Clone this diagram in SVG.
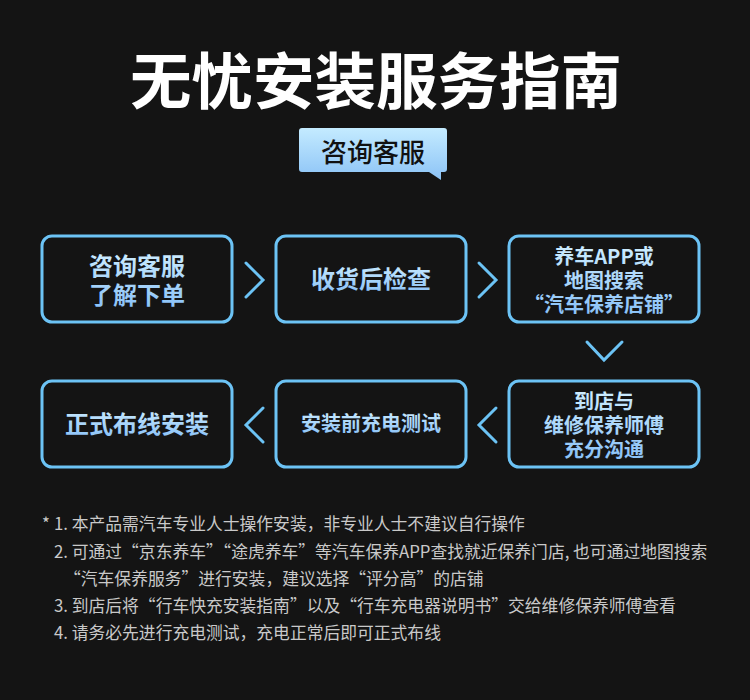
<svg xmlns="http://www.w3.org/2000/svg" width="750" height="700" viewBox="0 0 750 700">
<defs>
<linearGradient id="gText" x1="0" y1="0" x2="0" y2="1">
<stop offset="0" stop-color="#d2f0ff"/>
<stop offset="1" stop-color="#86bff7"/>
</linearGradient>
<linearGradient id="gBadge" x1="0" y1="0" x2="0" y2="1">
<stop offset="0" stop-color="#c4ebff"/>
<stop offset="1" stop-color="#8cc3f6"/>
</linearGradient>
<style>
.box{fill:#141414;stroke:#6cc3f5;stroke-width:3}
.chev{fill:none;stroke:#6cc3f5;stroke-width:3;stroke-linecap:round;stroke-linejoin:miter}
.nt{font-family:"Noto Sans CJK SC","Noto Sans",sans-serif;font-weight:700;fill:url(#gText);text-anchor:middle}
.note{font-family:"Noto Sans CJK SC","Noto Sans",sans-serif;font-size:16.8px;fill:#c9c9c9}
</style>
</defs>
<rect width="750" height="700" fill="#141414"/>
<text x="376" y="104" text-anchor="middle" font-family="'Noto Sans CJK SC','Noto Sans',sans-serif" font-weight="700" font-size="61.5" fill="#ffffff">无忧安装服务指南</text>
<g id="badge">
<path d="M302,128 H444 Q447,128 447,131 V169 Q447,172 444,172 H441 V180 L429,172 H302 Q299,172 299,169 V131 Q299,128 302,128 Z" fill="url(#gBadge)"/>
<text x="373" y="162" text-anchor="middle" font-family="'Noto Sans CJK SC','Noto Sans',sans-serif" font-weight="500" font-size="26" fill="#111111">咨询客服</text>
</g>
<g id="connectors">
<polyline class="chev" points="246,263 263,280 246,297"/>
<polyline class="chev" points="479,263 496,280 479,297"/>
<polyline class="chev" points="587,342 604,360 622,342"/>
<polyline class="chev" points="496,408 479,425 496,442"/>
<polyline class="chev" points="263,408 246,425 263,442"/>
</g>
<g id="n1">
<rect class="box" x="42" y="236" width="190" height="86" rx="10"/>
<text class="nt" font-size="24"><tspan x="137" y="275">咨询客服</tspan><tspan x="137" y="304">了解下单</tspan></text>
</g>
<g id="n2">
<rect class="box" x="276" y="236" width="190" height="86" rx="10"/>
<text class="nt" x="371" y="288" font-size="24">收货后检查</text>
</g>
<g id="n3">
<rect class="box" x="509" y="236" width="190" height="86" rx="10"/>
<text class="nt" font-size="20"><tspan x="604" y="264">养车APP或</tspan><tspan x="604" y="288">地图搜索</tspan><tspan x="604" y="312">“汽车保养店铺”</tspan></text>
</g>
<g id="n4">
<rect class="box" x="509" y="381" width="190" height="86" rx="10"/>
<text class="nt" font-size="20"><tspan x="604" y="409">到店与</tspan><tspan x="604" y="433">维修保养师傅</tspan><tspan x="604" y="457">充分沟通</tspan></text>
</g>
<g id="n5">
<rect class="box" x="276" y="381" width="190" height="86" rx="10"/>
<text class="nt" x="371" y="431" font-size="20">安装前充电测试</text>
</g>
<g id="n6">
<rect class="box" x="42" y="381" width="190" height="86" rx="10"/>
<text class="nt" x="137" y="433" font-size="24">正式布线安装</text>
</g>
<g id="notes">
<text class="note" x="42" y="530">*</text>
<text class="note" x="54" y="530">1. 本产品需汽车专业人士操作安装，非专业人士不建议自行操作</text>
<text class="note" x="54" y="558">2. 可通过“京东养车”“途虎养车”等汽车保养APP查找就近保养门店, 也可通过地图搜索</text>
<text class="note" x="64" y="585">“汽车保养服务”进行安装，建议选择“评分高”的店铺</text>
<text class="note" x="54" y="612">3. 到店后将“行车快充安装指南”以及“行车充电器说明书”交给维修保养师傅查看</text>
<text class="note" x="54" y="639">4. 请务必先进行充电测试，充电正常后即可正式布线</text>
</g>
</svg>
